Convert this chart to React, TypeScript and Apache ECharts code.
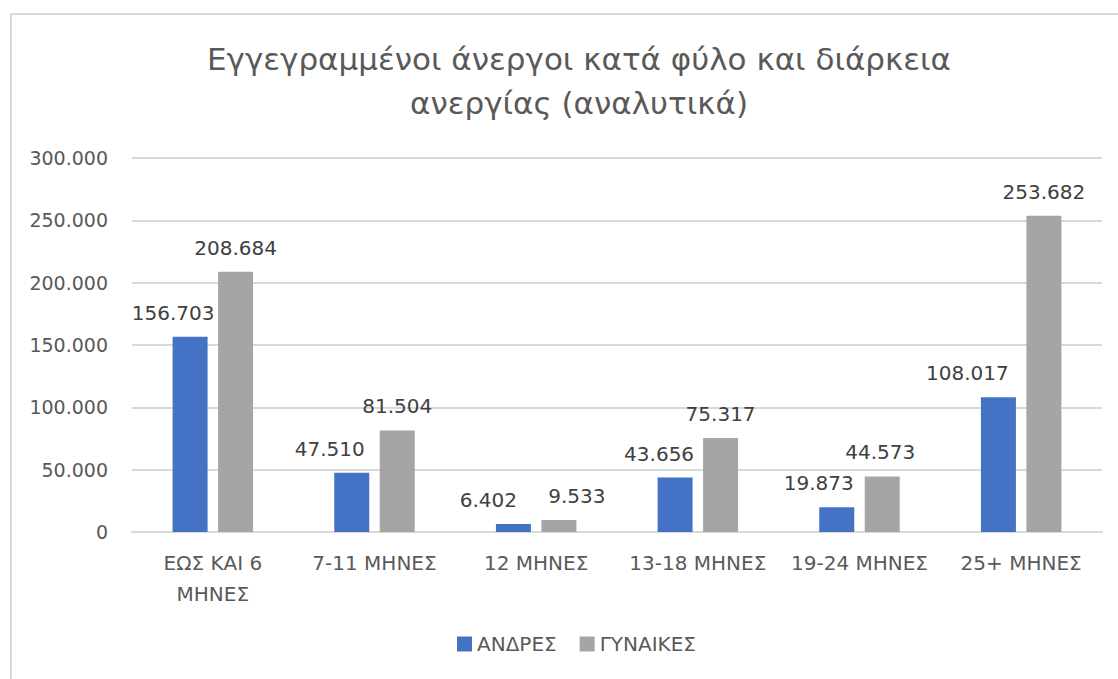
import React, { useEffect, useRef } from "react";
import * as echarts from "echarts";

const categories = ["ΕΩΣ ΚΑΙ 6\nΜΗΝΕΣ", "7-11 ΜΗΝΕΣ", "12 ΜΗΝΕΣ", "13-18 ΜΗΝΕΣ", "19-24 ΜΗΝΕΣ", "25+ ΜΗΝΕΣ"];
const men = [156703, 47510, 6402, 43656, 19873, 108017];
const women = [208684, 81504, 9533, 75317, 44573, 253682];
const seriesNames = ["ΑΝΔΡΕΣ", "ΓΥΝΑΙΚΕΣ"];
const titleText = "Εγγεγραμμένοι άνεργοι κατά φύλο και διάρκεια\nανεργίας (αναλυτικά)";

// horizontal nudges of the data labels (style only)
const menLabelDx = [-17, -22, -25, -16, -18, -31];
const womenLabelDx = [0, 0, 18, 0, -2, 0];

const fmt = (v: number) => {
  if (v === 0) return "0";
  const s = Math.round(v).toString();
  return s.replace(/\B(?=(\d{3})+(?!\d))/g, ".");
};

const FONT = "'DejaVu Sans', sans-serif";

export default function App() {
  const ref = useRef<HTMLDivElement>(null);
  useEffect(() => {
    if (!ref.current) return;
    const chart = echarts.init(ref.current, null, { renderer: "svg" });
    const labelCfg = {
      show: true,
      position: "top" as const,
      distance: 14,
      color: "#404040",
      fontSize: 20,
      fontFamily: FONT,
      formatter: (p: any) => fmt(p.value),
    };
    const mkData = (vals: number[], dx: number[]) =>
      vals.map((v, i) => ({ value: v, label: { offset: [dx[i], 0] } }));
    chart.setOption({
      animation: false,
      backgroundColor: "#ffffff",
      textStyle: { fontFamily: FONT },
      title: {
        text: titleText,
        left: 574,
        textAlign: "center",
        top: 32,
        textStyle: {
          fontSize: 31,
          fontWeight: "normal",
          color: "#595959",
          lineHeight: 44,
          fontFamily: FONT,
        },
      },
      graphic: [
        {
          type: "rect",
          shape: { x: 11, y: 14, width: 1300, height: 900 },
          style: { fill: "none", stroke: "#D9D9D9", lineWidth: 2 },
          silent: true,
        },
      ],
      legend: {
        data: seriesNames,
        bottom: 20,
        left: 452,
        itemWidth: 15,
        itemHeight: 15,
        itemGap: 23,
        icon: "rect",
        textStyle: { color: "#595959", fontSize: 20, fontFamily: FONT },
      },
      grid: { left: 132, right: 16, top: 158, bottom: 147, containLabel: false },
      xAxis: {
        type: "category",
        data: categories,
        axisLine: { show: true, lineStyle: { color: "#D9D9D9", width: 2 } },
        axisTick: { show: false },
        axisLabel: {
          color: "#595959",
          fontSize: 20,
          fontFamily: FONT,
          margin: 15,
          lineHeight: 31,
          interval: 0,
        },
      },
      yAxis: {
        type: "value",
        min: 0,
        max: 300000,
        interval: 50000,
        axisLine: { show: false },
        axisTick: { show: false },
        splitLine: { lineStyle: { color: "#D9D9D9", width: 2 } },
        axisLabel: {
          color: "#595959",
          fontSize: 19,
          fontFamily: FONT,
          margin: 24,
          formatter: (v: number) => fmt(v),
        },
      },
      series: [
        {
          name: seriesNames[0],
          type: "bar",
          data: mkData(men, menLabelDx),
          barWidth: 35,
          barGap: "30%",
          itemStyle: { color: "#4472C4" },
          label: labelCfg,
        },
        {
          name: seriesNames[1],
          type: "bar",
          data: mkData(women, womenLabelDx),
          barWidth: 35,
          barGap: "30%",
          itemStyle: { color: "#A5A5A5" },
          label: labelCfg,
        },
      ],
    });
    return () => chart.dispose();
  }, []);
  return (
    <div
      ref={ref}
      style={{ position: "fixed", left: 0, top: 0, width: 1118, height: 679 }}
    />
  );
}
